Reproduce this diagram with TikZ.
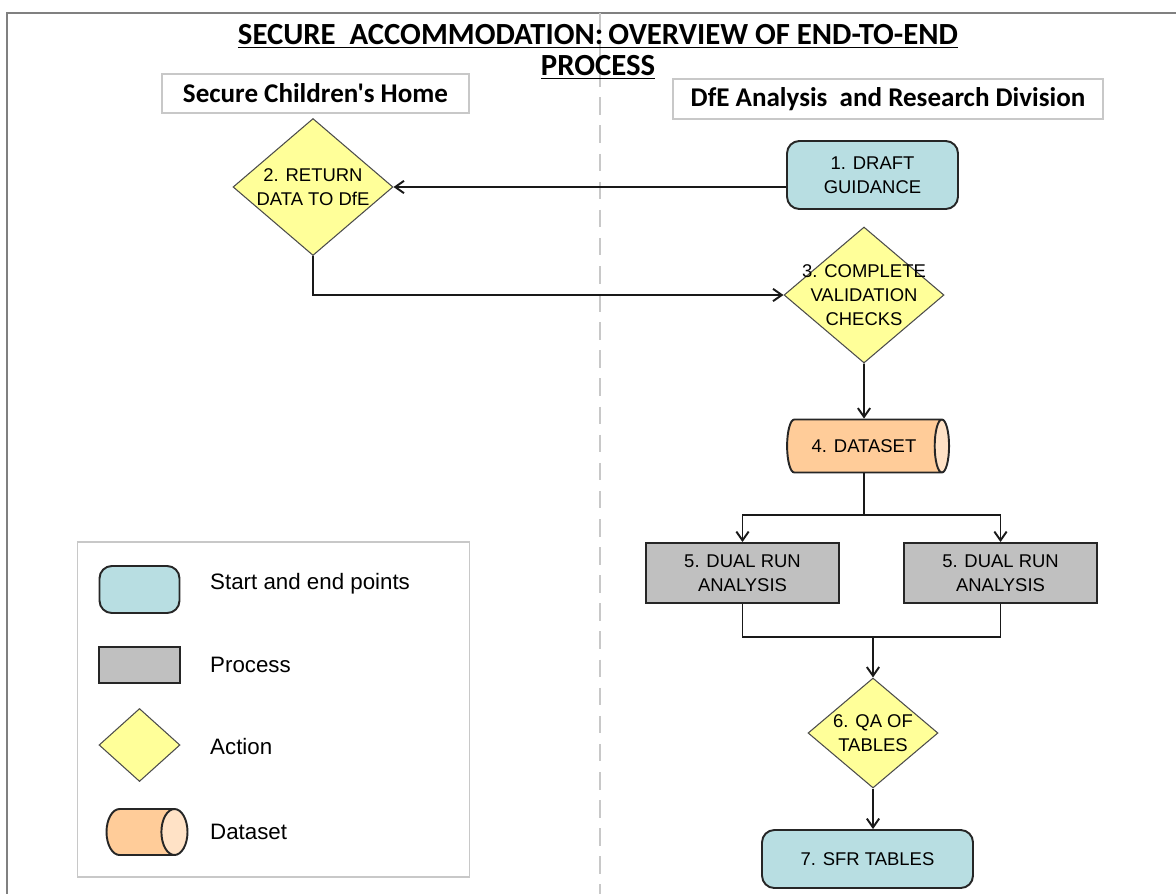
\documentclass[tikz,border=0pt]{standalone}
\usepackage{fontspec}
\setmainfont{Liberation Sans}
\newfontfamily\headfont{Carlito}
\usetikzlibrary{shapes.geometric,arrows.meta,positioning}

\definecolor{startfill}{RGB}{184,222,226}
\definecolor{procfill}{RGB}{192,192,192}
\definecolor{actfill}{RGB}{255,255,153}
\definecolor{datafill}{RGB}{255,204,153}
\definecolor{dataend}{RGB}{255,226,198}
\definecolor{framegray}{RGB}{128,128,128}
\definecolor{boxgray}{RGB}{200,200,200}

\tikzset{
  shapetext/.style={font=\fontsize{10.5}{13.5}\selectfont, align=center},
  startend/.style={draw=black!85, line width=1.1pt, fill=startfill, rounded corners=7pt, shapetext},
  process/.style={draw=black!85, line width=1.1pt, fill=procfill, shapetext},
  action/.style={draw=black!70, line width=0.6pt, fill=actfill, diamond, inner sep=0pt},
  dataset/.style={draw=black!85, line width=1.1pt, cylinder, cylinder uses custom fill,
    cylinder body fill=datafill, cylinder end fill=dataend, aspect=1.1, inner sep=0pt, shapetext},
  lane/.style={draw=boxgray, line width=1pt, font=\headfont\bfseries\fontsize{15.4}{17}\selectfont},
  flow/.style={line width=1.1pt, black!90},
  arr/.style={flow, -{Straight Barb[length=5pt,width=7pt]}},
  legtext/.style={anchor=west, font=\fontsize{12.7}{14}\selectfont},
}

\begin{document}
\begin{tikzpicture}[x=0.02cm, y=-0.02cm]
  \useasboundingbox (0,0) rectangle (1176,893);

  % frame and swim lane divider
  \draw[framegray, line width=1.3pt] (7,900) -- (7,13) -- (1185,13);
  \draw[boxgray, line width=1.2pt, dash pattern=on 10pt off 6pt] (600,13) -- (600,900);

  % title
  \node[font=\headfont\bfseries\fontsize{17.5}{17.6}\selectfont, align=center] (title) at (598,51.5)
    {\underline{SECURE\ \ ACCOMMODATION:\,OVERVIEW OF END-TO-END}\\\underline{PROCESS}};

  % lane headings
  \node[lane, minimum width=6.14cm, minimum height=0.78cm] (home) at (315.5,93.5) {Secure Children's Home};
  \node[lane, minimum width=8.6cm, minimum height=0.8cm] (dfe) at (888,99) {DfE Analysis\ \ and Research Division};

  % process steps
  \node[startend, minimum width=3.42cm, minimum height=1.36cm] (guide) at (872.5,175) {1. DRAFT\\GUIDANCE};
  \node[action, minimum width=3.2cm, minimum height=2.74cm,
    label={[shapetext]center:2. RETURN\\DATA TO DfE}] (ret) at (313,187) {};
  \node[action, minimum width=3.2cm, minimum height=2.72cm,
    label={[shapetext]center:3. COMPLETE\\VALIDATION\\CHECKS}] (check) at (864,295) {};
  \node[dataset, minimum height=3.24cm, minimum width=1.06cm] (data) at (864,446) {4. DATASET};
  \node[process, minimum width=3.86cm, minimum height=1.2cm] (runa) at (742.5,573) {5. DUAL RUN\\ANALYSIS};
  \node[process, minimum width=3.86cm, minimum height=1.2cm] (runb) at (1000.5,573) {5. DUAL RUN\\ANALYSIS};
  \node[action, minimum width=2.6cm, minimum height=2.2cm,
    label={[shapetext]center:6. QA OF\\TABLES}] (qa) at (873,733) {};
  \node[startend, minimum width=4.22cm, minimum height=1.16cm] (sfr) at (867.5,859) {7. SFR TABLES};

  % connectors
  \draw[arr] (ret.east -| guide.west) -- (ret.east);
  \draw[arr] (ret.south) |- (check.west);
  \draw[arr] (check.south) -- (data.north);
  \draw[flow] (data.south) -- (data.south |- 0,515) coordinate (split);
  \draw[arr] (split) -| (runa.north);
  \draw[arr] (split) -| (runb.north);
  \draw[flow] (runa.south) |- (runb.south |- 0,637) coordinate (join) -- (runb.south);
  \draw[arr] (qa.north |- join) -- (qa.north);
  \draw[arr] (qa.south) -- (qa.south |- sfr.north);

  % key
  \node[draw=boxgray, line width=1pt, minimum width=7.84cm, minimum height=6.7cm] (key) at (273.5,709.5) {};
  \node[startend, minimum width=1.6cm, minimum height=0.94cm] (keystart) at (139.5,589.5) {};
  \node[process, minimum width=1.62cm, minimum height=0.72cm] (keyproc) at (139.5,665) {};
  \node[action, minimum width=1.62cm, minimum height=1.46cm] (keyact) at (139.5,745) {};
  \node[dataset, minimum height=1.62cm, minimum width=0.92cm] (keydata) at (140,832) {\strut};
  \node[legtext] (keystarttxt) at (204,584) {Start and end points};
  \node[legtext] (keyproctxt) at (204,665) {Process};
  \node[legtext] (keyacttxt) at (204,747) {Action};
  \node[legtext] (keydatatxt) at (204,832) {Dataset};
\end{tikzpicture}
\end{document}
